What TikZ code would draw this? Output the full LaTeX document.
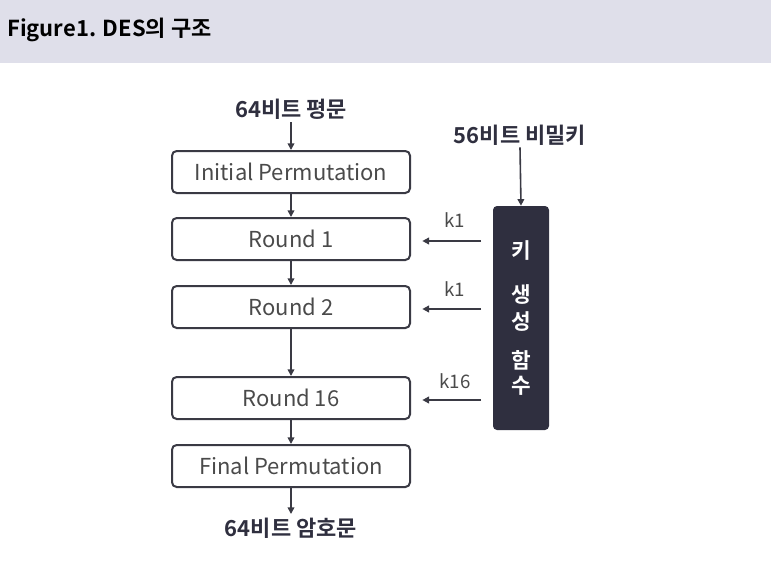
\documentclass[tikz,border=0pt]{standalone}
\usepackage{fontspec}
\setmainfont{Noto Sans CJK KR}
\newfontfamily\krb{Noto Sans CJK KR Bold}
\usetikzlibrary{arrows.meta}
\definecolor{hdr}{HTML}{DFDFEA}
\definecolor{edge}{HTML}{3A3A44}
\definecolor{txt}{HTML}{4A4A4A}
\definecolor{keyfill}{HTML}{2F2F3F}
\tikzset{
  stage/.style={draw=edge, line width=1.5pt, rounded corners=3.5pt, minimum width=178.5pt, minimum height=31.5pt, text=txt, font=\fontsize{16.5}{19}\selectfont, inner sep=0pt},
  lab/.style={font=\krb\fontsize{16.5}{19}\selectfont, text=keyfill, inner sep=0pt},
  arr/.style={draw=edge, line width=1.2pt, -{Triangle[length=5pt,width=5pt]}},
  klab/.style={font=\fontsize{14}{16}\selectfont, text=txt, inner sep=0pt},
  kchar/.style={font=\krb\fontsize{16}{18}\selectfont, text=white, inner sep=0pt}
}
\begin{document}
\begin{tikzpicture}[x=0.75pt,y=-0.75pt]
\useasboundingbox (0,0) rectangle (771,567);
\fill[hdr] (0,0) rectangle (771,63);
\node[anchor=west, font=\krb\fontsize{16.5}{19}\selectfont, inner sep=0pt] (title) at (7,30) {Figure1. DES의 구조};

\node[lab] (pt) at (291,109) {64비트 평문};
\node[stage] (ip) at (291,172) {Initial Permutation};
\node[stage] (r1) at (291,239) {Round 1};
\node[stage] (r2) at (291,307) {Round 2};
\node[stage] (r16) at (291,398) {Round 16};
\node[stage] (fp) at (291,466) {Final Permutation};
\node[lab] (ct) at (291,528) {64비트 암호문};

\draw[arr] (pt.south) ++(0,3) coordinate (pts) -- (ip.north);
\draw[arr] (ip) -- (r1);
\draw[arr] (r1) -- (r2);
\draw[arr] (r2) -- (r16);
\draw[arr] (r16) -- (fp);
\draw[arr] (fp.south) -- ++(0,26) coordinate (ctn);

\node[lab] (key) at (520,135) {56비트 비밀키};
\node[fill=keyfill, rounded corners=3pt, minimum width=42pt, minimum height=168pt, inner sep=0pt] (kg) at (521,318) {};
\node[kchar] at (521,250) {키};
\node[kchar] at (521,295) {생};
\node[kchar] at (521,322) {성};
\node[kchar] at (521,360) {함};
\node[kchar] at (521,386) {수};
\draw[arr] (key.south) ++(0,2) coordinate (keys) -- (kg.north);

\coordinate (s1) at (481,241);
\coordinate (s2) at (481,309);
\coordinate (s3) at (481,400);
\draw[arr] (s1) -- ([xshift=8.5pt]r1.east |- s1);
\draw[arr] (s2) -- ([xshift=8.5pt]r2.east |- s2);
\draw[arr] (s3) -- ([xshift=8.5pt]r16.east |- s3);
\node[klab] (l1) at (455,220) {k1};
\node[klab] (l2) at (455,289) {k1};
\node[klab] (l3) at (455,381) {k16};
\end{tikzpicture}
\end{document}
